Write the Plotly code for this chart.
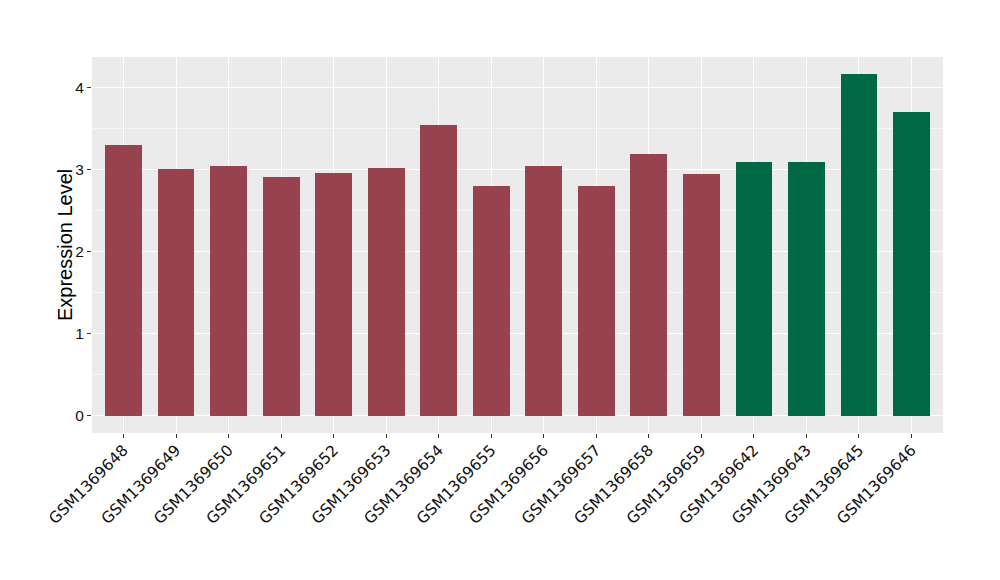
import plotly.graph_objects as go

samples = ["GSM1369648", "GSM1369649", "GSM1369650", "GSM1369651", "GSM1369652",
           "GSM1369653", "GSM1369654", "GSM1369655", "GSM1369656", "GSM1369657",
           "GSM1369658", "GSM1369659", "GSM1369642", "GSM1369643", "GSM1369645",
           "GSM1369646"]
values = [3.298, 3.006, 3.043, 2.908, 2.957, 3.018, 3.542, 2.798, 3.043, 2.798,
          3.189, 2.945, 3.091, 3.091, 4.164, 3.700]
groups = ["A"] * 12 + ["B"] * 4
group_colors = {"A": "#99424F", "B": "#006845"}
y_ticks = [0, 1, 2, 3, 4]

colors = [group_colors[g] for g in groups]

# page body has an 8px default margin; compensate in the figure margins
OFF = 8
L, R, T, B = 92, 57, 57, 147
plot_w = 1000 - L - R

fig = go.Figure()
fig.add_trace(go.Bar(
    x=list(range(len(samples))), y=values, marker=dict(color=colors, line=dict(width=0)),
    width=0.7, showlegend=False, hoverinfo="x+y"))

ymax = max(values)
fig.update_layout(
    width=1000, height=580,
    paper_bgcolor="white", plot_bgcolor="#EBEBEB",
    margin=dict(l=L - OFF, r=R + OFF, t=T - OFF, b=B + OFF, autoexpand=False),
    bargap=0,
    xaxis=dict(
        range=[-0.6, len(samples) - 0.4],
        tickmode="array", tickvals=list(range(len(samples))), ticktext=samples,
        tickangle=-45, tickfont=dict(family="DejaVu Sans", size=15.5, color="#111111"),
        ticklabelstandoff=-3,
        showgrid=True, gridcolor="white", gridwidth=1.3,
        ticks="outside", ticklen=4, tickcolor="#333333", tickwidth=1,
        zeroline=False, showline=False, fixedrange=True, automargin=False),
    yaxis=dict(
        range=[-0.05 * ymax, 1.05 * ymax],
        tickmode="array", tickvals=y_ticks, ticktext=[str(t) for t in y_ticks],
        tickfont=dict(family="Liberation Sans", size=15.5, color="#111111"),
        showgrid=True, gridcolor="white", gridwidth=1.3,
        minor=dict(dtick=0.5, tick0=0.5, showgrid=True, gridcolor="#F5F5F5", gridwidth=0.7, ticks=""),
        ticks="outside", ticklen=4, tickcolor="#333333", tickwidth=1,
        zeroline=False, showline=False, fixedrange=True, automargin=False),
    annotations=[dict(
        text="Expression Level", textangle=-90, showarrow=False,
        xref="paper", yref="paper", x=(65 - L) / plot_w, y=0.5,
        xanchor="center", yanchor="middle",
        font=dict(family="Liberation Sans", size=20, color="black"))],
)

fig.write_html("out.html")
